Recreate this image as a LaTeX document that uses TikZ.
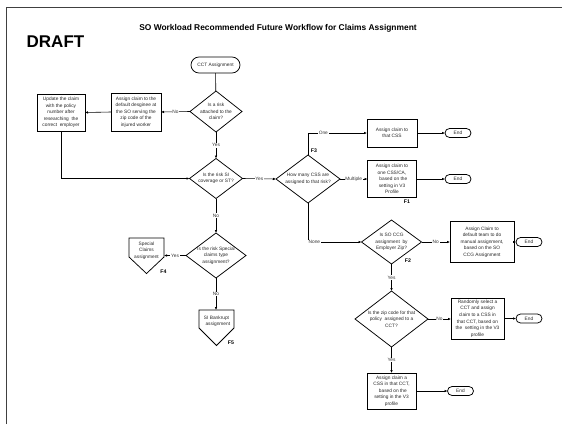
\documentclass[tikz,border=0pt]{standalone}
\usepackage{fontspec}
\setmainfont{Liberation Sans}
\usetikzlibrary{arrows.meta,shapes.geometric,shapes.misc,calc}

\begin{document}
\begin{tikzpicture}[x=1pt,y=-1pt,
  every node/.style={inner sep=0pt, outer sep=0pt},
  txt/.style={font=\fontsize{4.8}{6.4}\selectfont, align=center, text=black!85},
  procbox/.style={draw, line width=0.75pt, txt},
  decision/.style={diamond, draw, line width=0.75pt},
  terminal/.style={rounded rectangle, draw, line width=0.75pt, txt,
    minimum width=26, minimum height=9},
  offpage/.style={line width=0.75pt},
  arr/.style={draw, line width=0.6pt, -{Latex[length=3pt,width=2.6pt]}},
  plain/.style={draw, line width=0.6pt},
  lbl/.style={fill=white, inner sep=0.7pt, font=\fontsize{4.8}{5}\selectfont, text=black!80},
  flag/.style={font=\bfseries\fontsize{5.2}{6}\selectfont}]

\useasboundingbox (0,0) rectangle (562,424);

% page frame
\draw[black!75, line width=0.8pt] (6,424) -- (6,7) -- (562,7);

% headings
\node[font=\bfseries\fontsize{8.4}{9}\selectfont] (title) at (278,28)
  {SO Workload Recommended Future Workflow for Claims Assignment};
\node[font=\bfseries\fontsize{17}{18}\selectfont] (draft) at (55.5,42) {DRAFT};

% start
\node[rounded rectangle, draw, line width=0.75pt, txt, minimum width=49, minimum height=16]
  (start) at (215.5,65) {CCT Assignment};

% decisions (shapes) and their texts
\node[decision, minimum width=52, minimum height=41] (d1) at (216,111.5) {};
\node[txt] (d1t) at (d1) {Is a risk\\attached to the\\claim?};
\node[decision, minimum width=53, minimum height=40] (d2) at (216,178.5) {};
\node[txt] (d2t) at (d2) {Is the risk SI\\coverage or ST?};
\node[decision, minimum width=64, minimum height=48] (d3) at (308,179) {};
\node[txt] (d3t) at (d3) {How many CSS are\\assigned to that risk?};
\node[decision, minimum width=60, minimum height=44] (d4) at (391.5,242) {};
\node[txt] (d4t) at (d4) {Is SO CCG\\assignment\ \ by\\Employer Zip?};
\node[decision, minimum width=73, minimum height=56] (d5) at (391.5,319) {};
\node[txt] (d5t) at (d5) {Is the zip code for that\\policy\ \ assigned to a\\CCT?};
\node[decision, minimum width=60, minimum height=45] (d6) at (216,255.5) {};
\node[txt] (d6t) at (d6) {Is the risk Special\\claims type\\assignment?};

% process boxes
\node[procbox, minimum width=48, minimum height=37] (upd) at (61,112.5)
  {Update the claim\\with the policy\\number after\\researching\ \ the\\correct\ \ employer};
\node[procbox, minimum width=50, minimum height=38] (dflt) at (136,112)
  {Assign claim to the\\default desginee at\\the SO serving the\\zip code of the\\injured worker};
\node[procbox, minimum width=50, minimum height=28] (one) at (392,133)
  {Assign claim to\\that CSS};
\node[procbox, minimum width=49, minimum height=37] (multi) at (392,179)
  {Assign claim to\\one CSS/CA,\\\ \ based on the\\setting in V3\\Profile};
\node[procbox, minimum width=64, minimum height=41] (manual) at (482,242)
  {Assign Claim to\\default team to do\\manual assignment,\\based on the SO\\CCG Assignment};
\node[procbox, minimum width=53, minimum height=41] (rand) at (477.5,318.5)
  {Randomly select a\\CCT and assign\\claim to a CSS in\\[1pt]that CCT, based on\\the\ \ setting in the V3\\profile};
\node[procbox, minimum width=49, minimum height=36] (cct) at (391.5,391)
  {Assign claim a\\CSS in that CCT,\\\ \ based on the\\setting in the V3\\profile};

% end terminals
\node[terminal] (end1) at (458,133) {End};
\node[terminal] (end2) at (458,179) {End};
\node[terminal] (end3) at (529,242) {End};
\node[terminal] (end4) at (529,318.5) {End};
\node[terminal] (end5) at (460.5,391) {End};

% off-page connectors
\node[minimum width=35, minimum height=19, anchor=north] (spec) at (146.5,238) {};
\draw[offpage] (spec.north west) -- (spec.north east) -- (spec.south east)
  -- ($(spec.south)+(0,16.5)$) -- (spec.south west) -- cycle;
\node[txt] (spect) at (146.5,250.5) {Special\\Claims\\assignment};
\node[minimum width=35, minimum height=18, anchor=north] (bank) at (216.5,310) {};
\draw[offpage] (bank.north west) -- (bank.north east) -- (bank.south east)
  -- ($(bank.south)+(0,17.5)$) -- (bank.south west) -- cycle;
\node[txt] (bankt) at (216.5,321) {SI Bankrupt\\\ \ assignment};

% flags
\node[flag] (f3) at (314,150.5) {F3};
\node[flag] (f1) at (407,202) {F1};
\node[flag] (f2) at (408,260.5) {F2};
\node[flag] (f4) at (163.5,272) {F4};
\node[flag] (f5) at (231,343) {F5};

% connectors
\draw[plain] (start) -- (d1);
\draw[arr] (d1.west) -- node[lbl]{No} (dflt.east);
\draw[arr] (dflt.west) -- (upd.east);
\draw[arr] (upd.south) |- (d2.west);
\draw[arr] (d1.south) -- node[lbl]{Yes} (d2.north);
\draw[arr] (d2.east) -- node[lbl]{Yes} (d3.west);
\draw[arr] (d3.north) |- node[lbl, pos=0.63]{One} (one.west);
\draw[arr] (one.east) -- (end1.west);
\draw[arr] (d3.east) -- node[lbl]{Multiple} (multi.west);
\draw[arr] (multi.east) -- (end2.west);
\draw[arr] (d3.south) |- node[lbl, pos=0.56]{None} (d4.west);
\draw[arr] (d4.east) -- node[lbl]{No} (manual.west);
\draw[arr] (manual.east) -- (end3.west);
\draw[arr] (d4.south) -- node[lbl]{Yes} (d5.north);
\draw[arr] (d5.east) -- node[lbl]{No} (d5.east -| rand.west);
\draw[arr] (rand.east) -- (end4.west);
\draw[arr] (d5.south) -- node[lbl]{Yes} (cct.north);
\draw[arr] (cct.east) -- (end5.west);
\draw[arr] (d2.south) -- node[lbl]{No} (d6.north);
\draw[arr] (d6.west) -- node[lbl]{Yes} (d6.west -| spec.east);
\draw[arr] (d6.south) -- node[lbl]{No} (d6.south |- bank.north);

\end{tikzpicture}
\end{document}
